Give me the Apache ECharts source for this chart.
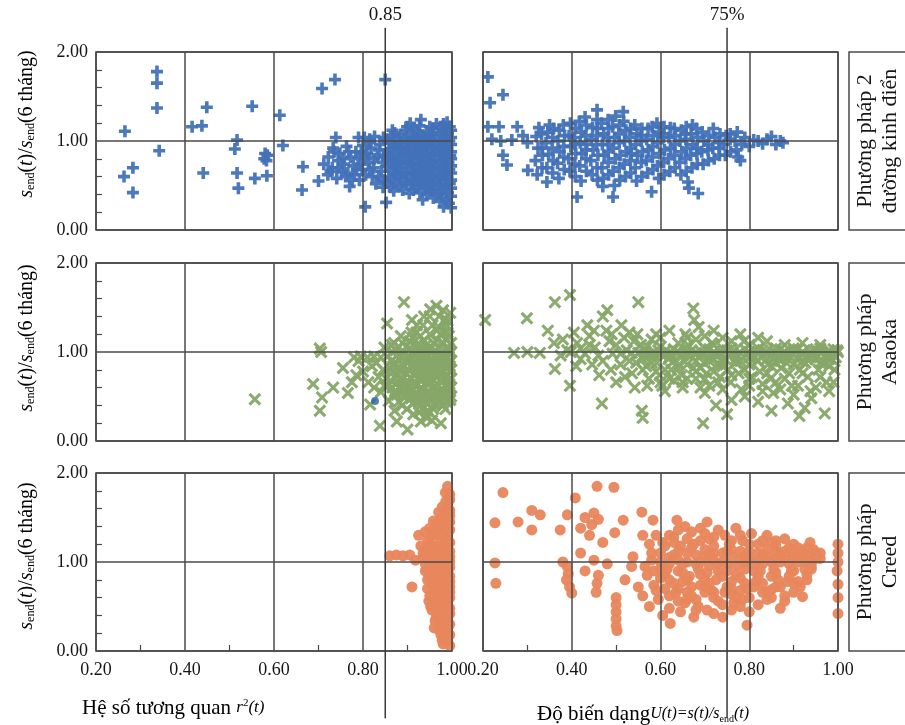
<!DOCTYPE html>
<html lang="vi">
<head>
<meta charset="UTF-8">
<title>Scatter</title>
<script src="https://cdn.jsdelivr.net/npm/echarts@6/dist/echarts.min.js"></script>
<style>
  html, body { margin: 0; padding: 0; background: #fff; }
  #chart { width: 905px; height: 725px; }
</style>
</head>
<body>
<div id="chart"></div>
<script>
// ---- data ----
const r2Threshold = [0.85];      // vertical line on the left column
const uThreshold = [0.75];       // vertical line on the right column
const methodNames = ['Phương pháp 2\nđường kinh điển', 'Phương pháp\nAsaoka', 'Phương pháp\nCreed'];

// row 1 : two-curve method (blue +)
const blueR2 = [
  [0.265,1.11],[0.337,1.78],[0.337,1.65],[0.337,1.37],[0.342,0.89],[0.263,0.60],[0.283,0.70],[0.283,0.42],
  [0.416,1.16],[0.438,1.17],[0.449,1.38],[0.441,0.64],[0.512,0.91],[0.517,1.01],[0.517,0.64],[0.520,0.47],
  [0.551,1.39],[0.557,0.58],[0.580,0.86],[0.578,0.80],[0.585,0.84],[0.583,0.78],[0.584,0.61],[0.613,1.29],
  [0.620,0.95],[0.663,0.45],[0.665,0.71],[0.708,1.59],[0.737,1.69],
  [0.700,0.55],[0.712,0.74],[0.721,0.62],[0.722,0.82],[0.731,0.70],[0.733,0.92],[0.741,0.58],[0.744,0.78],
  [0.739,1.04],[0.752,0.66],[0.748,0.86],[0.761,0.60],[0.758,0.74],[0.763,0.94],[0.770,0.49],[0.772,0.82],
  [0.781,0.62],[0.778,0.72],[0.784,0.88],[0.792,0.56],[0.789,0.80],[0.800,0.95],[0.803,1.04],[0.798,0.68],
  [0.805,0.26],[0.812,0.76],[0.809,0.86],[0.821,0.60],[0.818,0.92],[0.824,0.70],[0.832,0.82],[0.829,0.52],
  [0.841,0.66],[0.838,0.96],[0.844,0.76],[0.850,1.69],[0.852,0.31],[0.826,1.05],[0.846,1.04],
  [0.727,0.66],[0.735,0.88],[0.745,0.70],[0.755,0.80],[0.766,0.64],[0.768,0.88],[0.776,0.56],[0.786,0.68],
  [0.795,0.74],[0.796,0.88],[0.806,0.62],[0.815,0.68],[0.816,0.98],[0.825,0.80],[0.835,0.60],[0.836,0.90],
  [0.846,0.84],[0.847,0.56],[0.845,0.48],[0.815,1.02],[0.805,0.84],[0.790,1.04],
  [0.862,0.48],[0.858,0.60],[0.866,0.67],[0.861,0.75],[0.857,0.83],[0.864,0.91],[0.859,0.98],[0.867,1.06],
  [0.876,0.53],[0.872,0.63],[0.879,0.70],[0.874,0.79],[0.881,0.86],[0.873,0.94],[0.878,1.02],[0.871,1.09],
  [0.889,0.45],[0.893,0.56],[0.886,0.64],[0.891,0.72],[0.888,0.81],[0.894,0.88],[0.887,0.96],[0.892,1.04],[0.896,1.12],
  [0.904,0.41],[0.907,0.51],[0.902,0.60],[0.909,0.68],[0.903,0.77],[0.908,0.84],[0.901,0.92],[0.906,1.00],[0.910,1.08],[0.906,1.20],
  [0.921,0.47],[0.918,0.55],[0.924,0.63],[0.917,0.71],[0.922,0.80],[0.919,0.87],[0.925,0.95],[0.916,1.03],[0.923,1.11],
  [0.934,0.34],[0.937,0.50],[0.932,0.58],[0.938,0.66],[0.933,0.74],[0.936,0.82],[0.931,0.90],[0.939,0.98],[0.935,1.06],[0.930,1.24],
  [0.951,0.44],[0.947,0.53],[0.953,0.61],[0.948,0.69],[0.952,0.77],[0.946,0.85],[0.954,0.93],[0.949,1.01],[0.955,1.09],[0.950,1.16],
  [0.966,0.40],[0.962,0.48],[0.968,0.57],[0.963,0.65],[0.967,0.73],[0.961,0.81],[0.969,0.89],[0.964,0.97],[0.960,1.05],[0.965,1.19],
  [0.981,0.26],[0.978,0.37],[0.983,0.46],[0.977,0.55],[0.982,0.63],[0.979,0.71],[0.984,0.79],[0.976,0.87],[0.980,0.95],[0.983,1.03],[0.978,1.12],[0.981,1.19],
  [0.993,0.30],[0.991,0.42],[0.995,0.52],[0.990,0.60],[0.994,0.68],[0.992,0.76],[0.996,0.84],[0.990,0.92],[0.994,1.00],[0.991,1.08],[0.995,1.16],
  [0.855,0.54],[0.852,0.71],[0.856,0.87],[0.853,1.02],[0.869,0.44],[0.868,0.57],[0.870,0.71],[0.865,0.79],[0.869,0.95],[0.866,1.12],
  [0.883,0.49],[0.882,0.60],[0.884,0.75],[0.880,0.82],[0.885,0.91],[0.883,0.99],[0.884,1.07],
  [0.898,0.52],[0.897,0.64],[0.899,0.76],[0.895,0.84],[0.898,0.92],[0.897,1.00],[0.899,1.16],
  [0.913,0.45],[0.912,0.56],[0.914,0.64],[0.911,0.73],[0.913,0.80],[0.915,0.88],[0.912,0.96],[0.914,1.04],[0.913,1.14],
  [0.928,0.42],[0.927,0.51],[0.929,0.59],[0.926,0.67],[0.928,0.75],[0.927,0.83],[0.929,0.91],[0.926,0.99],[0.928,1.07],[0.927,1.17],
  [0.943,0.40],[0.942,0.47],[0.944,0.55],[0.941,0.63],[0.943,0.71],[0.945,0.79],[0.942,0.87],[0.944,0.95],[0.941,1.03],[0.943,1.11],
  [0.958,0.36],[0.957,0.44],[0.959,0.52],[0.956,0.60],[0.958,0.68],[0.957,0.76],[0.959,0.84],[0.956,0.92],[0.958,1.00],[0.957,1.08],[0.958,1.14],
  [0.973,0.32],[0.972,0.43],[0.974,0.51],[0.971,0.60],[0.973,0.68],[0.972,0.76],[0.974,0.84],[0.971,0.92],[0.973,1.00],[0.972,1.08],[0.974,1.16],
  [0.988,0.34],[0.987,0.48],[0.989,0.57],[0.986,0.65],[0.988,0.73],[0.987,0.81],[0.989,0.89],[0.986,0.97],[0.988,1.05],[0.987,1.13],[0.989,1.21],
  [0.998,0.25],[0.998,0.38],[0.998,0.47],[0.998,0.56],[0.998,0.64],[0.998,0.72],[0.998,0.80],[0.998,0.88],[0.998,0.96],[0.998,1.04],[0.998,1.12]
];
const blueU = [
  [0.211,1.72],[0.216,1.43],[0.245,1.52],[0.211,1.16],[0.236,1.16],[0.277,1.16],[0.265,1.01],[0.245,0.84],
  [0.254,0.73],[0.301,0.67],[0.220,1.02],[0.240,1.00],[0.290,1.06],[0.300,0.98],
  [0.457,1.35],[0.516,1.33],[0.430,1.27],[0.412,0.37],[0.493,0.37],[0.580,0.43],[0.662,0.54],[0.664,0.47],
  [0.685,0.41],[0.344,0.54],[0.470,0.49],[0.876,0.98],[0.850,1.05],[0.810,1.01],[0.775,0.82],[0.780,0.78],
  [0.830,0.97],[0.860,0.96],[0.800,0.94],
  [0.322,0.62],[0.318,0.78],[0.324,0.92],[0.320,1.05],[0.326,1.15],
  [0.344,0.70],[0.348,0.85],[0.342,0.98],[0.346,1.10],[0.350,1.18],
  [0.371,0.58],[0.368,0.75],[0.373,0.88],[0.369,1.00],[0.372,1.12],
  [0.396,0.66],[0.393,0.80],[0.398,0.94],[0.394,1.06],[0.397,1.20],
  [0.421,0.55],[0.418,0.72],[0.423,0.86],[0.419,0.98],[0.422,1.10],[0.417,1.22],
  [0.446,0.62],[0.443,0.78],[0.448,0.90],[0.444,1.02],[0.447,1.15],
  [0.471,0.58],[0.468,0.70],[0.473,0.84],[0.469,0.96],[0.472,1.08],[0.467,1.20],
  [0.496,0.50],[0.493,0.66],[0.498,0.80],[0.494,0.92],[0.497,1.04],[0.492,1.16],[0.499,1.28],
  [0.521,0.60],[0.518,0.74],[0.523,0.88],[0.519,1.00],[0.522,1.12],[0.517,1.22],
  [0.546,0.55],[0.543,0.70],[0.548,0.84],[0.544,0.96],[0.547,1.08],[0.542,1.18],
  [0.571,0.64],[0.568,0.78],[0.573,0.90],[0.569,1.02],[0.572,1.14],
  [0.596,0.58],[0.593,0.72],[0.598,0.86],[0.594,0.98],[0.597,1.10],[0.592,1.20],
  [0.621,0.66],[0.618,0.80],[0.623,0.92],[0.619,1.04],[0.622,1.15],
  [0.646,0.62],[0.643,0.76],[0.648,0.88],[0.644,1.00],[0.647,1.12],
  [0.671,0.70],[0.668,0.84],[0.673,0.96],[0.669,1.08],[0.672,1.18],
  [0.696,0.74],[0.693,0.88],[0.698,1.00],[0.694,1.10],
  [0.721,0.80],[0.718,0.92],[0.723,1.04],[0.719,1.14],
  [0.746,0.84],[0.743,0.96],[0.748,1.06],
  [0.771,0.90],[0.768,1.00],[0.773,1.10],
  [0.333,0.92],[0.357,1.04],[0.382,0.82],[0.407,0.96],[0.432,0.90],[0.457,1.06],[0.482,0.88],[0.507,0.98],
  [0.532,0.92],[0.557,1.00],[0.582,0.94],[0.607,1.04],[0.632,0.96],[0.657,1.02],[0.682,0.92],[0.707,0.96],[0.732,0.98],[0.757,1.02],
  [0.333,0.70],[0.334,0.84],[0.332,1.08],
  [0.357,0.64],[0.358,0.78],[0.356,0.92],[0.359,1.14],
  [0.383,0.68],[0.382,0.94],[0.384,1.06],[0.381,1.18],
  [0.408,0.60],[0.407,0.74],[0.409,0.86],[0.406,1.04],[0.408,1.14],
  [0.433,0.66],[0.432,0.80],[0.434,0.96],[0.431,1.06],[0.433,1.18],
  [0.458,0.56],[0.457,0.70],[0.459,0.84],[0.456,0.96],[0.458,1.14],[0.457,1.24],
  [0.483,0.62],[0.482,0.76],[0.484,0.96],[0.481,1.04],[0.483,1.14],[0.482,1.24],
  [0.508,0.56],[0.507,0.70],[0.509,0.84],[0.506,1.08],[0.508,1.18],
  [0.533,0.64],[0.532,0.78],[0.534,0.86],[0.531,1.04],[0.533,1.14],
  [0.558,0.60],[0.557,0.76],[0.559,0.88],[0.556,1.06],[0.558,1.14],
  [0.583,0.68],[0.582,0.82],[0.584,1.06],[0.581,1.16],
  [0.608,0.62],[0.607,0.76],[0.609,0.90],[0.606,1.08],[0.608,1.16],
  [0.633,0.70],[0.632,0.84],[0.634,1.06],[0.631,1.14],
  [0.658,0.66],[0.657,0.80],[0.659,0.92],[0.656,1.08],[0.658,1.16],
  [0.683,0.74],[0.682,0.86],[0.684,1.04],[0.681,1.14],
  [0.708,0.78],[0.707,0.90],[0.709,1.06],
  [0.733,0.84],[0.732,0.92],[0.734,1.08],
  [0.758,0.88],[0.757,1.08],[0.783,0.96],[0.790,1.04],[0.820,1.00],[0.840,1.02],[0.870,1.00]
];

// row 2 : Asaoka (green x)
const greenR2 = [
  [0.703,1.04],[0.706,1.00],[0.755,0.82],[0.688,0.64],[0.733,0.60],[0.708,0.49],[0.766,0.54],[0.703,0.34],
  [0.557,0.47],[0.892,1.56],[0.910,1.36],[0.854,1.32],[0.838,0.17],[0.876,0.22],[0.900,0.13],[0.913,0.30],
  [0.930,0.22],[0.955,0.23],[0.816,0.41],[0.840,0.55],
  [0.780,0.94],[0.795,0.95],[0.810,0.94],[0.825,0.95],[0.840,0.94],[0.855,0.95],[0.790,0.90],[0.830,0.88],
  [0.980,1.47],[0.965,1.52],[0.950,1.40],[0.990,1.35],[0.935,1.30],[0.970,1.28],[0.920,1.22],[0.885,1.18],
  [0.950,1.20],[0.990,1.22],[0.905,1.12],[0.870,1.10],[0.860,0.82],[0.852,0.70],[0.866,0.60],[0.858,0.45],
  [0.874,1.02],[0.872,0.88],[0.878,0.74],[0.876,0.52],[0.871,0.34],
  [0.889,0.98],[0.893,0.84],[0.886,0.68],[0.891,0.56],[0.888,0.40],
  [0.904,1.04],[0.907,0.92],[0.902,0.80],[0.909,0.70],[0.903,0.60],[0.908,0.48],
  [0.921,1.08],[0.918,0.96],[0.924,0.86],[0.917,0.76],[0.922,0.64],[0.919,0.54],[0.925,0.44],
  [0.937,1.12],[0.932,1.00],[0.938,0.90],[0.933,0.80],[0.936,0.70],[0.931,0.60],[0.939,0.50],[0.934,0.36],[0.940,0.28],
  [0.951,1.06],[0.947,0.96],[0.953,0.86],[0.948,0.76],[0.952,0.66],[0.946,0.56],[0.954,0.46],[0.950,0.32],
  [0.966,1.14],[0.962,1.02],[0.968,0.92],[0.963,0.82],[0.967,0.72],[0.961,0.62],[0.969,0.52],[0.964,0.42],
  [0.981,1.10],[0.978,0.98],[0.983,0.88],[0.977,0.78],[0.982,0.68],[0.979,0.58],[0.984,0.48],[0.980,0.40],
  [0.993,1.04],[0.991,0.94],[0.995,0.84],[0.990,0.74],[0.994,0.64],[0.992,0.54],[0.996,0.46],[0.975,0.20],
  [0.856,0.62],[0.862,0.76],[0.864,0.90],[0.866,1.00],[0.868,0.52],
  [0.880,0.60],[0.882,0.80],[0.884,0.94],[0.880,1.06],[0.881,0.44],
  [0.896,0.50],[0.897,0.62],[0.898,0.76],[0.896,0.90],[0.897,1.06],[0.899,0.36],
  [0.912,0.42],[0.913,0.58],[0.914,0.74],[0.912,0.86],[0.913,1.00],[0.911,1.16],
  [0.928,0.48],[0.927,0.58],[0.929,0.68],[0.926,0.82],[0.928,0.94],[0.927,1.04],[0.929,1.18],[0.926,0.32],
  [0.943,0.42],[0.942,0.52],[0.944,0.64],[0.941,0.74],[0.943,0.86],[0.945,0.96],[0.942,1.08],[0.944,0.26],
  [0.958,0.36],[0.957,0.50],[0.959,0.60],[0.956,0.70],[0.958,0.80],[0.957,0.90],[0.959,1.10],[0.956,1.30],
  [0.973,0.46],[0.972,0.56],[0.974,0.76],[0.971,0.86],[0.973,0.96],[0.972,1.06],[0.974,1.20],[0.971,1.40],
  [0.988,0.44],[0.987,0.52],[0.989,0.62],[0.986,0.72],[0.988,0.82],[0.987,0.92],[0.989,1.02],[0.986,1.14],[0.988,1.30],
  [0.998,0.50],[0.998,0.60],[0.998,0.70],[0.998,0.80],[0.998,0.90],[0.998,1.00],[0.998,1.10],
  [0.845,0.80],[0.848,0.62],[0.835,0.72],[0.825,0.60],[0.820,0.84],[0.812,0.66],[0.800,0.78],[0.785,0.74],
  [0.775,0.66],[0.848,1.05],
  [0.862,0.68],[0.868,0.84],[0.864,1.08],[0.872,0.56],[0.876,0.96],[0.878,0.66],[0.885,0.72],[0.887,0.86],
  [0.889,1.10],[0.891,0.50],[0.900,0.68],[0.902,0.96],[0.905,0.54],[0.907,0.84],[0.909,1.22],[0.916,0.66],
  [0.917,0.92],[0.919,0.48],[0.921,1.30],[0.923,0.80],[0.931,0.74],[0.933,0.54],[0.935,0.96],[0.937,1.40],
  [0.939,0.84],[0.946,0.70],[0.948,1.02],[0.949,0.50],[0.951,1.48],[0.953,0.92],[0.961,0.74],[0.963,0.56],
  [0.964,0.96],[0.966,1.24],[0.968,0.84],[0.976,0.70],[0.977,0.52],[0.979,0.92],[0.981,1.22],[0.983,1.36],
  [0.991,0.68],[0.992,0.88],[0.993,1.18],[0.994,0.58],[0.995,0.98],[0.996,1.44],[0.960,0.40],[0.945,0.34],
  [0.985,0.36],[0.930,0.40]
];
const strayBlue = [[0.827,0.45]];
const greenU = [
  [0.205,1.36],[0.299,1.38],[0.362,1.56],[0.346,1.24],[0.396,1.64],[0.328,0.99],[0.362,0.81],[0.396,0.62],
  [0.468,0.42],[0.550,1.56],[0.480,1.47],[0.674,1.49],[0.676,1.36],[0.720,1.24],[0.558,0.34],[0.560,0.26],
  [0.696,0.20],[0.750,0.30],[0.725,0.40],[0.850,0.34],[0.887,0.42],[0.913,0.28],[0.925,0.37],[0.970,0.31],
  [1.000,1.00],[0.300,1.00],[0.270,0.99],
  [0.405,1.22],[0.412,1.10],[0.398,1.00],[0.420,0.92],[0.435,1.30],[0.440,1.18],[0.452,1.05],[0.446,0.86],
  [0.462,0.74],[0.470,1.40],[0.478,1.24],[0.485,1.12],[0.492,0.98],[0.488,0.80],[0.500,0.66],[0.512,1.30],
  [0.518,1.16],[0.524,1.02],[0.530,0.90],[0.536,0.76],[0.542,0.60],[0.548,1.20],[0.556,1.08],[0.562,0.96],
  [0.568,0.84],[0.574,0.70],[0.580,1.14],[0.586,1.00],[0.592,0.88],[0.598,0.74],[0.604,0.62],[0.612,1.02],
  [0.618,0.92],[0.624,0.80],[0.630,0.68],[0.636,1.00],[0.642,0.86],[0.648,0.74],[0.656,1.20],[0.662,1.08],
  [0.668,0.96],[0.674,0.82],[0.680,0.70],[0.686,1.28],[0.692,1.00],[0.698,0.88],[0.704,0.76],[0.710,0.62],
  [0.716,1.10],[0.722,0.98],[0.728,0.86],[0.734,0.72],[0.740,1.04],[0.746,0.92],[0.752,0.80],[0.758,0.66],
  [0.764,1.00],[0.770,0.88],[0.776,0.76],[0.782,0.58],[0.788,1.12],[0.794,0.98],[0.800,0.86],[0.806,0.72],
  [0.812,1.02],[0.818,0.90],[0.824,0.78],[0.830,0.64],[0.836,1.00],[0.842,0.86],[0.848,0.70],[0.854,0.54],
  [0.860,1.04],[0.866,0.94],[0.872,0.82],[0.878,1.00],[0.884,0.88],[0.890,0.76],[0.896,0.62],[0.902,1.02],
  [0.908,0.92],[0.914,0.80],[0.920,1.00],[0.926,0.88],[0.932,0.72],[0.938,0.56],[0.944,1.02],[0.950,0.92],
  [0.956,0.80],[0.962,1.00],[0.968,0.88],[0.974,0.66],[0.980,1.02],[0.986,0.92],[0.992,0.80],[0.998,1.02],
  [0.600,0.98],[0.640,1.00],[0.680,0.98],[0.720,1.00],[0.760,0.97],[0.800,1.00],[0.840,0.98],[0.880,1.00],
  [0.920,0.97],[0.960,1.00],[0.900,0.98],[0.940,0.99],[0.980,0.98],[0.860,0.99],[0.820,0.98],[0.780,0.99],
  [0.740,0.98],[0.700,0.99],[0.660,0.97],[0.620,0.99],[0.575,0.97],[0.535,0.99],[0.390,1.02],[0.420,1.04],
  [0.550,0.99],[0.565,1.01],[0.585,0.96],[0.595,1.02],[0.610,0.97],[0.630,1.03],[0.650,0.96],[0.670,1.02],
  [0.690,0.96],[0.710,1.03],[0.730,0.96],[0.750,1.02],[0.770,0.96],[0.790,1.03],[0.810,0.96],[0.830,1.02],
  [0.850,0.96],[0.870,1.03],[0.890,0.96],[0.910,1.03],[0.930,0.96],[0.950,1.03],[0.970,0.96],[0.990,1.03],
  [0.630,0.90],[0.660,0.86],[0.690,0.82],[0.710,0.90],[0.740,0.84],[0.770,0.92],[0.790,0.80],[0.820,0.90],
  [0.850,0.84],[0.870,0.90],[0.900,0.86],[0.930,0.92],[0.960,0.88],[0.980,0.84],
  [0.640,1.10],[0.680,1.14],[0.720,1.08],[0.760,1.12],[0.800,1.08],[0.840,1.12],[0.880,1.08],[0.920,1.10],[0.960,1.08],
  [0.570,0.62],[0.610,0.56],[0.650,0.60],[0.700,0.54],[0.740,0.58],[0.790,0.50],[0.830,0.56],[0.870,0.58],
  [0.910,0.62],[0.950,0.60],
  [0.360,1.10],[0.375,0.96],[0.430,0.98],[0.450,1.24],[0.470,0.90],[0.500,1.08],[0.510,0.86],[0.530,1.22],
  [0.520,0.72],[0.545,0.88],[0.570,1.06],[0.590,1.20],[0.610,0.80],[0.620,1.24],[0.660,0.70],[0.700,1.18],
  [0.730,0.66],[0.780,1.20],
  [0.560,0.92],[0.580,0.88],[0.600,1.06],[0.620,0.94],[0.640,0.82],[0.660,1.04],[0.680,0.90],[0.700,1.04],
  [0.720,0.92],[0.740,0.90],[0.760,1.04],[0.780,0.90],[0.800,0.94],[0.820,1.04],[0.840,0.92],[0.860,0.88],
  [0.880,0.94],[0.900,1.04],[0.920,0.90],[0.940,0.94],[0.960,1.04],[0.980,0.92],[0.995,0.94],[0.590,0.78],
  [0.620,0.70],[0.650,0.66],[0.680,0.78],[0.700,0.70],[0.720,0.78],[0.760,0.74],[0.800,0.70],[0.840,0.76],
  [0.880,0.70],[0.920,0.76],[0.960,0.72],[0.990,0.66],[0.600,1.16],[0.660,1.16],[0.740,1.16],[0.820,1.16],
  [0.380,1.14],[0.410,0.84],[0.440,1.08],[0.460,0.96],[0.490,1.20],[0.510,0.98],[0.540,1.12],[0.560,0.80],
  [0.600,0.66],[0.690,0.60],[0.800,0.62],[0.860,0.66],[0.900,0.52],[0.940,0.48],[0.980,0.56],[0.760,0.46],
  [0.820,0.44]
];

// row 3 : Creed (orange dots)
const orangeR2 = [
  [0.860,1.07],[0.875,1.08],[0.890,1.07],[0.905,1.08],[0.918,1.02],[0.910,0.72],
  [0.990,1.85],[0.985,1.78],[0.995,1.70],[0.990,1.62],[0.985,1.55],[0.975,1.48],[0.995,1.45],[0.965,1.42],
  [0.980,1.36],[0.950,1.38],[0.960,1.30],[0.990,1.30],[0.945,1.24],[0.975,1.22],[0.955,1.16],[0.990,1.16],
  [0.935,1.10],[0.965,1.08],[0.980,1.04],[0.945,1.02],[0.995,1.00],[0.955,0.96],[0.975,0.94],[0.940,0.90],
  [0.990,0.88],[0.960,0.85],[0.945,0.80],[0.980,0.78],[0.955,0.74],[0.995,0.72],[0.965,0.68],[0.950,0.62],
  [0.985,0.63],[0.960,0.56],[0.990,0.55],[0.970,0.50],[0.955,0.46],[0.985,0.44],[0.965,0.38],[0.990,0.36],
  [0.975,0.30],[0.960,0.26],[0.990,0.24],[0.975,0.18],[0.990,0.12],[0.980,0.08],[0.950,1.20],[0.935,1.05],
  [0.940,0.98],[0.970,1.12],[0.985,1.26],[0.970,0.70],[0.980,0.58],[0.975,0.86],
  [0.945,0.92],[0.948,0.84],[0.945,0.70],[0.948,0.56],[0.952,0.50],[0.950,0.88],[0.952,1.08],[0.948,1.14],
  [0.955,1.30],[0.958,1.46],
  [0.962,0.34],[0.962,0.48],[0.962,0.62],[0.962,0.78],[0.962,0.92],[0.962,1.02],[0.962,1.18],[0.962,1.36],
  [0.970,0.24],[0.970,0.42],[0.970,0.58],[0.970,0.80],[0.970,0.98],[0.970,1.04],[0.970,1.32],[0.970,1.56],
  [0.978,0.12],[0.978,0.22],[0.978,0.36],[0.978,0.48],[0.978,0.66],[0.978,0.72],[0.978,0.90],[0.978,1.16],
  [0.978,1.42],[0.978,1.62],
  [0.986,0.16],[0.986,0.28],[0.986,0.50],[0.986,0.70],[0.986,0.84],[0.986,0.96],[0.986,1.10],[0.986,1.20],
  [0.986,1.36],[0.986,1.48],[0.986,1.68],
  [0.995,0.06],[0.995,0.18],[0.995,0.30],[0.995,0.42],[0.995,0.48],[0.995,0.60],[0.995,0.66],[0.995,0.78],
  [0.995,0.84],[0.995,0.94],[0.995,1.06],[0.995,1.12],[0.995,1.22],[0.995,1.36],[0.995,1.52],[0.995,1.58],[0.995,1.76],
  [0.940,1.14],[0.930,1.18],[0.925,1.30],[0.940,1.34]
];
const orangeU = [
  [0.245,1.78],[0.227,1.44],[0.227,0.99],[0.229,0.76],[0.279,1.45],[0.310,1.58],[0.329,1.53],[0.310,1.36],
  [0.374,1.36],[0.390,1.53],[0.408,1.72],[0.457,1.85],[0.495,1.84],
  [0.390,0.95],[0.392,0.87],[0.388,0.80],[0.395,0.72],[0.400,0.65],[0.380,1.00],
  [0.430,1.50],[0.445,1.42],[0.460,1.48],[0.440,1.30],[0.470,1.22],[0.450,1.55],[0.420,1.38],
  [0.497,1.33],[0.516,1.47],[0.558,1.56],[0.583,1.47],[0.637,1.47],[0.705,1.45],
  [0.500,0.60],[0.500,0.52],[0.500,0.44],[0.500,0.36],[0.500,0.28],[0.502,0.23],
  [0.457,0.76],[0.455,0.66],[0.430,0.90],[0.450,1.02],[0.480,0.98],[0.460,0.85],[0.420,1.10],
  [0.538,1.06],[0.535,0.95],[0.520,0.80],[0.550,0.72],[0.560,0.62],[0.570,0.85],
  [0.622,0.31],[0.795,0.29],[0.937,1.22],[0.920,0.61],[0.850,0.69],
  [1.000,1.20],[1.000,1.10],[1.000,1.00],[0.998,0.90],[1.000,0.75],[1.000,0.60],[1.000,0.42],
  [0.600,1.10],[0.620,1.05],[0.640,1.12],[0.660,1.00],[0.680,1.08],[0.700,1.14],[0.720,1.02],[0.740,1.10],
  [0.760,1.06],[0.780,1.12],[0.800,1.04],[0.820,1.10],[0.840,1.06],[0.860,1.12],[0.880,1.04],[0.900,1.10],
  [0.920,1.06],[0.940,1.08],[0.870,1.00],[0.910,1.00],[0.830,0.98],[0.790,1.00],[0.750,0.98],[0.710,0.96],
  [0.590,1.30],[0.605,1.22],[0.615,0.92],[0.600,0.82],[0.610,0.70],[0.595,0.58],[0.620,0.48],[0.605,0.40],
  [0.630,1.28],[0.645,1.18],[0.640,0.90],[0.650,0.78],[0.635,0.66],[0.655,0.54],[0.645,0.44],
  [0.670,1.34],[0.675,1.20],[0.685,0.92],[0.665,0.84],[0.690,0.74],[0.670,0.62],[0.685,0.50],[0.675,0.38],
  [0.710,1.26],[0.720,1.18],[0.705,0.88],[0.725,0.80],[0.715,0.68],[0.730,0.56],[0.705,0.46],
  [0.745,1.30],[0.755,1.20],[0.750,0.90],[0.760,0.78],[0.745,0.66],[0.765,0.54],[0.740,0.38],
  [0.785,1.24],[0.790,0.92],[0.780,0.82],[0.795,0.70],[0.785,0.58],[0.800,0.44],
  [0.820,1.20],[0.825,0.90],[0.815,0.78],[0.830,0.66],[0.820,0.52],
  [0.860,1.18],[0.855,0.92],[0.865,0.80],[0.850,0.60],[0.870,0.48],
  [0.890,1.16],[0.895,0.90],[0.885,0.78],[0.900,0.66],[0.925,0.92],[0.930,0.80],[0.915,0.72],[0.945,1.14],
  [0.575,1.20],[0.580,1.02],[0.565,0.95],[0.585,0.74],[0.575,0.50],[0.560,1.30],[0.655,1.40],[0.690,1.38],
  [0.730,1.36],[0.770,1.38],[0.805,1.32],[0.840,1.30],[0.880,1.26],
  [0.620,0.98],[0.640,1.02],[0.660,1.10],[0.680,0.98],[0.700,1.06],[0.720,1.10],[0.740,1.00],[0.760,1.14],
  [0.780,1.04],[0.800,1.12],[0.820,1.02],[0.840,1.14],[0.860,1.04],[0.880,1.12],[0.900,1.04],[0.920,1.12],
  [0.940,1.02],[0.950,1.10],
  [0.610,0.86],[0.630,0.76],[0.650,0.88],[0.670,0.72],[0.690,0.86],[0.710,0.76],[0.730,0.90],[0.750,0.72],
  [0.770,0.86],[0.790,0.76],[0.810,0.90],[0.830,0.76],[0.850,0.84],[0.870,0.72],[0.890,0.84],[0.910,0.78],[0.930,0.86],
  [0.620,0.62],[0.640,0.56],[0.660,0.66],[0.680,0.58],[0.700,0.66],[0.720,0.60],[0.740,0.52],[0.760,0.64],
  [0.780,0.50],[0.800,0.60],[0.840,0.58],[0.880,0.56],
  [0.610,1.18],[0.630,1.22],[0.660,1.26],[0.690,1.24],[0.720,1.28],[0.760,1.24],[0.800,1.20],[0.830,1.24],
  [0.860,1.24],[0.900,1.20],[0.930,1.16],
  [0.590,0.68],[0.585,0.90],[0.600,1.00],[0.580,1.10],
  [0.600,0.92],[0.620,0.80],[0.630,1.08],[0.650,0.98],[0.660,0.80],[0.670,1.16],[0.690,1.00],[0.700,0.80],
  [0.710,1.08],[0.730,0.98],[0.740,0.84],[0.750,1.12],[0.770,0.96],[0.780,0.68],[0.790,1.08],[0.810,0.98],
  [0.820,0.84],[0.830,1.08],[0.850,1.00],[0.860,0.88],[0.870,1.08],[0.890,0.98],[0.900,0.90],[0.910,1.08],
  [0.930,1.00],[0.940,0.92],[0.950,1.04],[0.960,1.10],[0.640,0.70],[0.660,0.58],[0.700,0.72],[0.720,0.66],
  [0.760,0.70],[0.770,0.60],[0.810,0.72],[0.840,0.66],[0.860,0.72],[0.900,0.76],[0.680,0.46],[0.720,0.42],
  [0.760,0.46],[0.620,1.30],[0.700,1.32],[0.640,1.36],[0.780,1.30],[0.850,1.22],[0.910,1.16],[0.880,0.62],
  [0.960,1.04],[0.940,0.96]
];

// ---- layout ----
const serif = 'Liberation Serif';
const ink = '#151515';
const cols = [{ left: 96, width: 356 }, { left: 483, width: 355 }];
const rowTops = [52, 263, 473];
const rowH = 178;
const panelData = [[blueR2, blueU], [greenR2, greenU], [orangeR2, orangeU]];

const plusSym = 'path://M3.5,0H6.5V3.5H10V6.5H6.5V10H3.5V6.5H0V3.5H3.5Z';
const crossSym = 'path://M1.7,0L5,3.3L8.3,0L10,1.7L6.7,5L10,8.3L8.3,10L5,6.7L1.7,10L0,8.3L3.3,5L0,1.7Z';
const styles = [
  { symbol: plusSym, symbolSize: 12, color: '#4271b8' },
  { symbol: crossSym, symbolSize: 13, color: '#86a667' },
  { symbol: 'circle', symbolSize: 11, color: '#e8865c' }
];

const grid = [], xAxis = [], yAxis = [], series = [];
rowTops.forEach((top, r) => {
  cols.forEach((c, k) => {
    const idx = grid.length;
    grid.push({ left: c.left, top: top, width: c.width, height: rowH, show: true,
      borderColor: '#4a4a4a', borderWidth: 1.5 });
    const bottomRow = r === rowTops.length - 1;
    xAxis.push({
      gridIndex: idx, type: 'value', min: 0.2, max: 1.0, interval: 0.2, z: 3,
      axisLine: { show: false }, axisTick: { show: false, inside: true },
      minorTick: { show: bottomRow, splitNumber: 2, length: 6, lineStyle: { color: '#4a4a4a', width: 1.2 } },
      splitLine: { show: true, lineStyle: { color: '#4a4a4a', width: 1.5 } },
      axisLabel: { show: bottomRow, margin: 10, fontFamily: serif, fontSize: 18, color: ink,
        formatter: v => v.toFixed(2) }
    });
    yAxis.push({
      gridIndex: idx, type: 'value', min: 0, max: 2, interval: 1, z: 3,
      axisLine: { show: false }, axisTick: { show: false, inside: true },
      minorTick: { show: k === 0, splitNumber: 5, length: 6, lineStyle: { color: '#4a4a4a', width: 1.2 } },
      splitLine: { show: true, lineStyle: { color: '#4a4a4a', width: 1.5 } },
      axisLabel: { show: k === 0, margin: 8, fontFamily: serif, fontSize: 18, color: ink,
        formatter: v => v.toFixed(2) }
    });
    series.push({
      type: 'scatter', xAxisIndex: idx, yAxisIndex: idx, data: panelData[r][k],
      symbol: styles[r].symbol, symbolSize: styles[r].symbolSize,
      itemStyle: { color: styles[r].color, opacity: 0.95 }
    });
  });
});

// stray blue point in the Asaoka r2 panel
series.push({ type: 'scatter', xAxisIndex: 2, yAxisIndex: 2, data: strayBlue,
  symbol: 'circle', symbolSize: 8, itemStyle: { color: '#2f5fa8' } });

// overlay grids for the long threshold lines
[[r2Threshold, cols[0]], [uThreshold, cols[1]]].forEach(([thr, c], j) => {
  const idx = grid.length;
  grid.push({ left: c.left, top: 28, width: c.width, bottom: 7 });
  xAxis.push({ gridIndex: idx, type: 'value', min: 0.2, max: 1.0, show: false });
  yAxis.push({ gridIndex: idx, type: 'value', min: 0, max: 1, show: false });
  series.push({
    type: 'line', xAxisIndex: idx, yAxisIndex: idx, z: 5, silent: true,
    symbol: 'circle', symbolSize: 1, showSymbol: true,
    itemStyle: { color: '#3a3a3a' },
    lineStyle: { color: '#3a3a3a', width: 1.5 },
    data: [[thr[0], 0], { value: [thr[0], 1], label: { show: true } }],
    label: { show: false, position: 'top', distance: 3, fontFamily: serif, fontSize: 19, color: ink,
      formatter: p => j === 0 ? p.value[0].toFixed(2) : Math.round(p.value[0] * 100) + '%' }
  });
});

// titles and method boxes
const yTitle = '{i|s}{sub|end}{n|(}{i|t}{n|)/}{i|s}{sub|end}{n|(6 tháng)}';
const yRich = {
  n: { fontFamily: serif, fontSize: 20, color: ink },
  i: { fontFamily: serif, fontSize: 20, fontStyle: 'italic', color: ink },
  sub: { fontFamily: serif, fontSize: 12, color: ink, verticalAlign: 'bottom', lineHeight: 15 }
};
const graphic = [];
const titleCenters = [124, 338, 556];
titleCenters.forEach(cy => {
  graphic.push({ type: 'text', x: 27, y: cy, rotation: Math.PI / 2,
    style: { text: yTitle, rich: yRich, align: 'center', verticalAlign: 'middle' } });
});
rowTops.forEach((top, r) => {
  graphic.push({ type: 'rect', shape: { x: 849, y: top, width: 70, height: rowH },
    style: { fill: 'none', stroke: '#4a4a4a', lineWidth: 1.5 } });
  graphic.push({ type: 'text', x: 878, y: top + rowH / 2, rotation: Math.PI / 2,
    style: { text: methodNames[r], fontFamily: serif, fontSize: 22, lineHeight: 25, fill: ink,
      align: 'center', verticalAlign: 'middle' } });
});
graphic.push({ type: 'text', x: 82, y: 708,
  style: { text: '{n|Hệ số tương quan }{i|r}{sup|2}{i|(t)}', verticalAlign: 'middle',
    rich: {
      n: { fontFamily: serif, fontSize: 21, color: ink },
      i: { fontFamily: serif, fontSize: 17, fontStyle: 'italic', color: ink },
      sup: { fontFamily: serif, fontSize: 11, color: ink, verticalAlign: 'top', lineHeight: 20 }
    } } });
graphic.push({ type: 'text', x: 537, y: 714,
  style: { text: '{n|Độ biến dạng}{i|U(t)=s(t)/s}{sub|end}{i|(t)}', verticalAlign: 'middle',
    rich: {
      n: { fontFamily: serif, fontSize: 21, color: ink },
      i: { fontFamily: serif, fontSize: 16, fontStyle: 'italic', color: ink },
      sub: { fontFamily: serif, fontSize: 10, color: ink, verticalAlign: 'bottom', lineHeight: 14 }
    } } });

const chart = echarts.init(document.getElementById('chart'));
chart.setOption({
  backgroundColor: '#fff',
  animation: false,
  grid: grid, xAxis: xAxis, yAxis: yAxis, series: series, graphic: graphic
});
</script>
</body>
</html>
